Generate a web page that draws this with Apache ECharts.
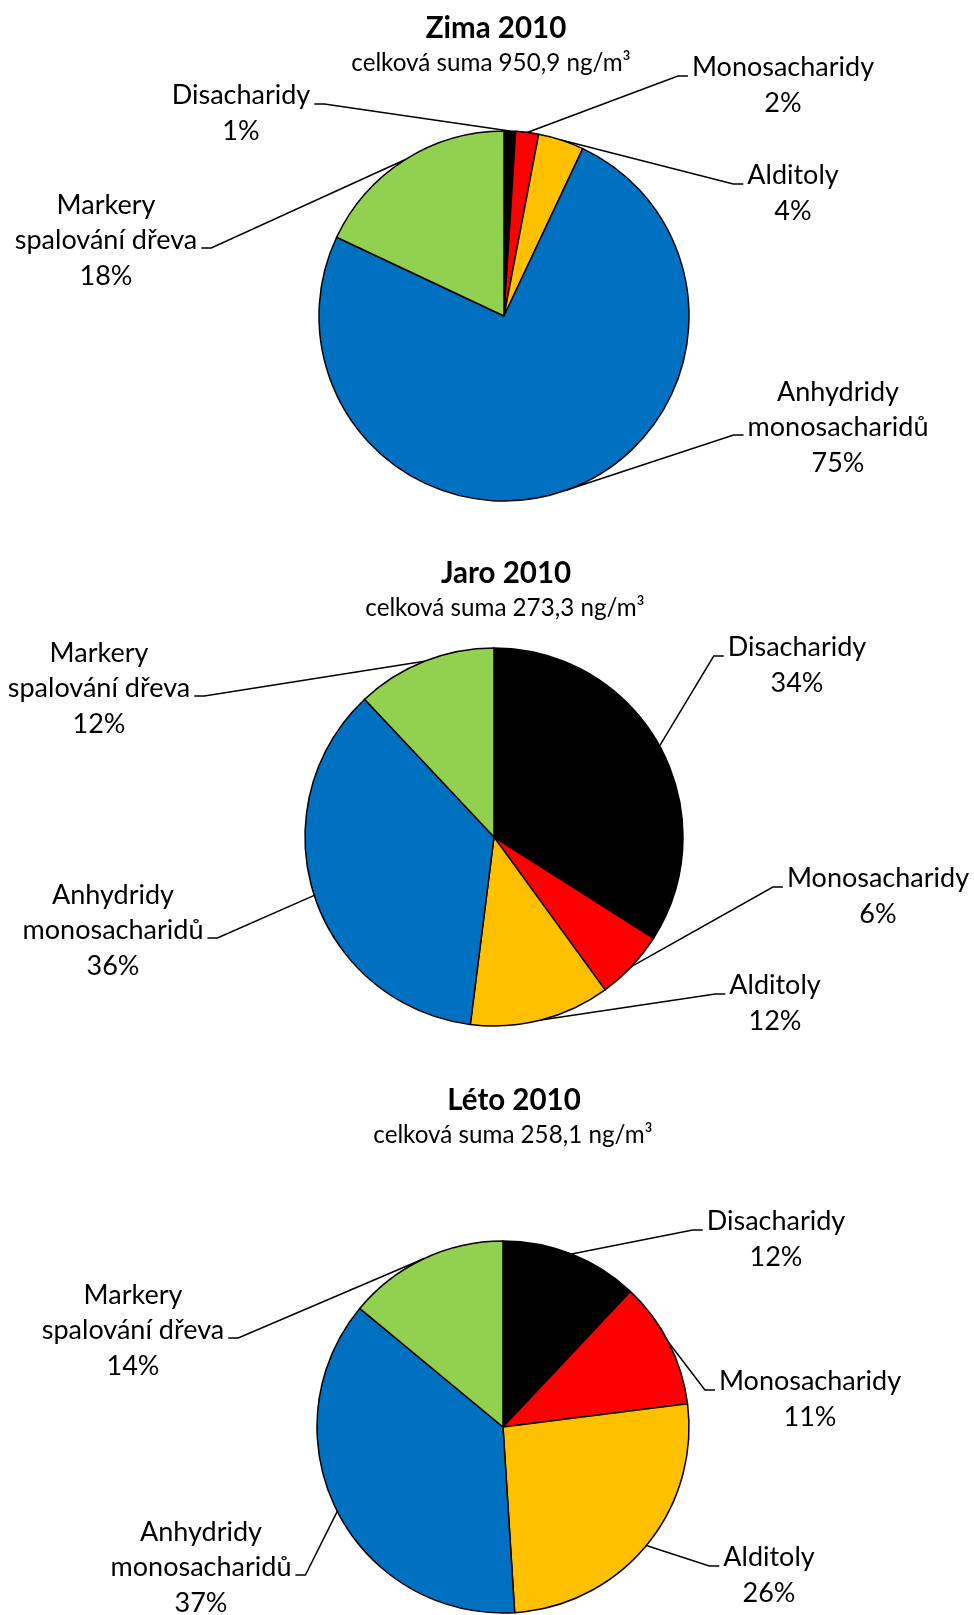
<!DOCTYPE html>
<html>
<head>
<meta charset="utf-8">
<script src="https://cdn.jsdelivr.net/npm/echarts@6/dist/echarts.min.js"></script>
<style>
  html, body { margin: 0; padding: 0; background: #ffffff; }
  #main { width: 974px; height: 1615px; }
</style>
</head>
<body>
<div id="main"></div>
<script>
// Sugar groups (same order and colours in all three seasons)
const categories = ['Disacharidy', 'Monosacharidy', 'Alditoly', 'Anhydridy\nmonosacharidů', 'Markery\nspalování dřeva'];
const seasons = ['Zima 2010', 'Jaro 2010', 'Léto 2010'];
const totals = ['950,9', '273,3', '258,1'];

// Share of each group in the total (%)
const zimaValues = [1, 2, 4, 75, 18];
const jaroValues = [34, 6, 12, 36, 12];
const letoValues = [12, 11, 26, 37, 14];

const colors = ['#000000', '#FF0000', '#FFC000', '#0070C0', '#92D050'];

// ---- layout ----
const pieCenters = [[504, 316], [494, 837], [503, 1427]];
const pieRadii = [185, 189, 186];
// [x of title, x of subtitle, top of title, top of subtitle]
const titleAnchors = [[496, 491, 12, 49], [506, 505, 557, 594], [514, 513, 1084, 1121]];
// per label: [x of text centre, y of the leader stub]
const labelAnchors = [
  [[241, 104], [783, 76], [793, 184], [838, 435], [106, 248]],
  [[797, 656], [878, 887], [775, 994], [113, 938], [99, 696]],
  [[776, 1230], [810, 1390], [769, 1566], [201, 1575], [133, 1338]]
];

const FONT = 'Lato, "Open Sans", sans-serif';
const valueSets = [zimaValues, jaroValues, letoValues];

const chart = echarts.init(document.getElementById('main'), null, { renderer: 'canvas' });

// The leader stub meets the label slightly below its first (2-line labels)
// or middle (3-line labels) text line; an invisible spacer line shifts the
// block's middle to that height.
function labelText(p) {
  const body = p.name + '\n' + Math.round(p.percent) + '%';
  return p.name.indexOf('\n') < 0 ? '{spTop| }\n' + body : body + '\n{spBot| }';
}

const titles = [];
seasons.forEach(function (s, i) {
  const a = titleAnchors[i];
  titles.push({
    text: s, left: a[0], top: a[2], textAlign: 'center', padding: 0,
    textStyle: { fontFamily: FONT, fontSize: 29.5, fontWeight: 'bold', color: '#000', lineHeight: 32 }
  });
  titles.push({
    text: 'celková suma ' + totals[i] + ' ng/m³', left: a[1], top: a[3], textAlign: 'center', padding: 0,
    textStyle: { fontFamily: FONT, fontSize: 24.2, fontWeight: 'normal', color: '#000', lineHeight: 28 }
  });
});

const option = {
  backgroundColor: '#ffffff',
  animation: false,
  title: titles,
  series: valueSets.map(function (vals, si) {
    return {
      type: 'pie',
      center: pieCenters[si],
      radius: pieRadii[si],
      startAngle: 90,
      clockwise: true,
      avoidLabelOverlap: false,
      silent: true,
      data: categories.map(function (name, i) {
        return { name: name, value: vals[i], itemStyle: { color: colors[i] } };
      }),
      itemStyle: { borderColor: '#000000', borderWidth: 1.5 },
      label: {
        show: true,
        position: 'outside',
        fontFamily: FONT,
        fontSize: 27,
        lineHeight: 35.5,
        color: '#000000',
        align: 'center',
        padding: [0, 4, 0, 4],
        backgroundColor: 'rgba(255,255,255,0)',
        formatter: labelText,
        rich: {
          spTop: { fontSize: 8, lineHeight: 19 },
          spBot: { fontSize: 8, lineHeight: 15 }
        }
      },
      labelLine: {
        show: true,
        length: 10,
        length2: 10,
        smooth: false,
        minTurnAngle: 0,
        lineStyle: { color: '#000000', width: 1.5 }
      },
      labelLayout: function (params) {
        const a = labelAnchors[si][params.dataIndex];
        return { x: a[0], y: a[1], align: 'center', verticalAlign: 'middle' };
      }
    };
  })
};

chart.setOption(option);
</script>
</body>
</html>
